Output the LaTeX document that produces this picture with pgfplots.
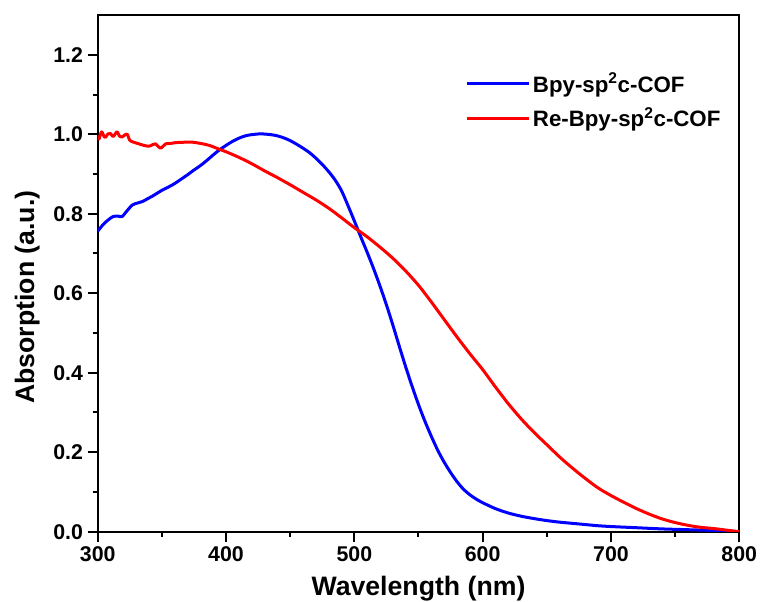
\documentclass[border=0pt]{standalone}
\usepackage{fontspec}
\setmainfont{Liberation Sans}
\usepackage{pgfplots}
\pgfplotsset{compat=1.18}

\begin{document}
\begin{tikzpicture}
% fix the page to the reference proportions (761x601 px, 1px = 0.75pt)
\path[use as bounding box] (-73.275pt,-51.975pt) rectangle (497.475pt,398.775pt);
\begin{axis}[
    at={(0,0)}, anchor=south west,
    width=481.2pt, height=387.5pt,
    scale only axis,
    xmin=300, xmax=800,
    ymin=0, ymax=1.3,
    xtick={300,400,...,800},
    ytick={0,0.2,...,1.2},
    minor x tick num=1,
    minor y tick num=1,
    tick align=outside,
    tick pos=left,
    major tick length=7.5pt,
    minor tick length=3.75pt,
    axis line style={line width=1.5pt},
    every tick/.style={line width=1.5pt, black},
    /pgf/number format/assume math mode=true,
    ticklabel style={font=\fontsize{16}{19}\selectfont\bfseries},
    yticklabel style={/pgf/number format/.cd, fixed, fixed zerofill, precision=1},
    xlabel={Wavelength (nm)},
    ylabel={Absorption (a.u.)},
    label style={font=\fontsize{20}{24}\selectfont\bfseries},
    xlabel style={at={(axis description cs:0.5,-0.0857)}, anchor=north, inner sep=0pt},
    ylabel style={at={(axis description cs:-0.090,0.454)}, anchor=south, inner sep=0pt},
    legend style={draw=none, fill=none, at={(axis description cs:0.5725,0.8935)},
        anchor=north west, inner sep=0pt, row sep=6pt,
        font=\fontsize{16.7}{20}\selectfont\bfseries,
        /tikz/every even column/.append style={column sep=0pt}},
    legend cell align=left,
    legend image code/.code={\draw[#1] (0pt,0pt) -- (46.5pt,0pt);},
    every axis plot/.append style={line width=2.25pt, smooth, line join=round},
]
% Bpy-sp2c-COF
\addplot[color=blue] coordinates {
(300,0.756)(304,0.772)(308,0.784)(312,0.793)(316,0.794)(319,0.793)(323,0.808)
(327,0.822)(331,0.827)(335,0.831)(339,0.838)(343,0.845)(347,0.853)(350,0.859)
(355,0.867)(360,0.876)(365,0.887)(370,0.898)(375,0.910)
(380,0.921)(385,0.934)(390,0.948)(395,0.961)(400,0.972)(405,0.982)(410,0.990)
(415,0.996)(420,0.999)(427,1.001)(435,0.999)(440,0.996)(445,0.991)
(450,0.984)(455,0.975)(460,0.965)(465,0.954)(470,0.940)(475,0.924)(480,0.906)
(485,0.885)(490,0.858)(495,0.821)(500,0.782)(505,0.742)(510,0.703)(515,0.662)
(520,0.618)(525,0.571)(530,0.520)(535,0.467)(540,0.415)(545,0.366)(550,0.320)
(555,0.278)(560,0.240)(565,0.205)(570,0.175)(575,0.149)(580,0.126)(585,0.107)
(590,0.093)(595,0.082)(600,0.073)(610,0.058)(620,0.047)(630,0.039)(640,0.033)
(650,0.028)(660,0.024)(670,0.021)(680,0.018)(690,0.015)(700,0.013)(720,0.010)
(740,0.007)(760,0.005)(780,0.003)(800,0.000)
};
% Re-Bpy-sp2c-COF
\addplot[color=red] coordinates {
(300,0.997)(301,0.988)(303,1.006)(305,0.994)(306,0.992)(308,1.001)(310,1.002)
(312,0.994)(315,1.006)(317,0.995)(319,0.993)(321,0.998)(323,1.000)(325,0.985)
(328,0.980)(332,0.976)(336,0.972)(340,0.970)(343,0.974)(345,0.976)(347,0.970)
(349,0.965)(351,0.970)(353,0.976)(357,0.977)(361,0.979)(368,0.980)(374,0.980)
(380,0.977)(387,0.972)(395,0.962)(400,0.956)(410,0.942)(420,0.926)
(430,0.908)(440,0.891)(450,0.873)(460,0.854)(470,0.835)(480,0.814)(490,0.790)
(500,0.765)(510,0.742)(520,0.716)(530,0.688)(540,0.656)(550,0.620)(560,0.578)
(570,0.534)(580,0.490)(590,0.448)(600,0.408)(610,0.364)(620,0.322)(630,0.284)
(640,0.250)(650,0.219)(660,0.188)(670,0.160)(680,0.134)(690,0.110)(700,0.091)
(710,0.074)(720,0.058)(730,0.044)(740,0.032)(750,0.023)(760,0.016)(770,0.011)
(780,0.008)(790,0.004)(800,0.000)
};
\legend{Bpy-sp\textsuperscript{2}c-COF, Re-Bpy-sp\textsuperscript{2}c-COF}
\end{axis}
\end{tikzpicture}
\end{document}
